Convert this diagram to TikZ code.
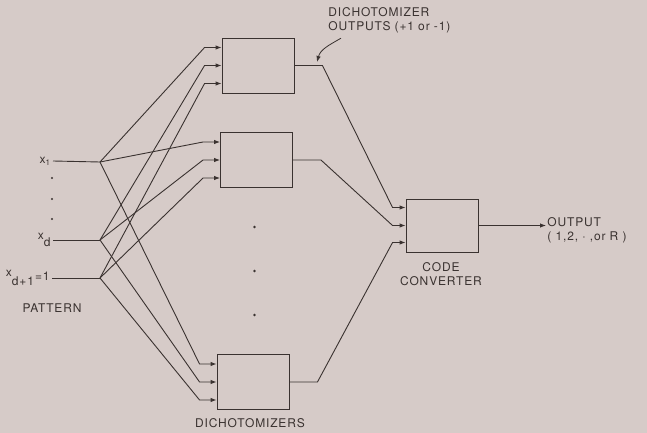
\documentclass[tikz,border=0pt]{standalone}
\usepackage{fontspec}
\setsansfont{TeX Gyre Heros}[LetterSpace=7]
\usetikzlibrary{arrows.meta,positioning}
\definecolor{paper}{RGB}{214,203,200}
\definecolor{ink}{RGB}{58,50,48}

\begin{document}
\begin{tikzpicture}[
    x=1pt, y=-1pt,
    font=\sffamily\fontsize{12}{14}\selectfont, line width=0.9pt,
    draw=ink, text=ink,
    dich/.style={draw=ink,minimum width=72pt,minimum height=55pt,inner sep=0pt},
    arrow/.style={-{Latex[length=6pt,width=4.5pt]}},
    tag/.style={align=center,inner sep=1pt},
    dot/.style={fill=ink}
]
\path[use as bounding box,fill=paper] (0,0) rectangle (647,433);

% pattern inputs
\coordinate (b1) at (100,162);
\coordinate (b2) at (100,240);
\coordinate (b3) at (100,278);
\node[anchor=east,inner sep=2pt] (x1) at (53,161) {x\textsubscript{1}};
\node[anchor=east,inner sep=2pt] (xd) at (53,240) {\raisebox{3pt}{x}\raisebox{-4pt}{d}};
\node[anchor=east,inner sep=2pt] (xe) at (52,278) {\raisebox{4pt}{x}\raisebox{-5pt}{d+1}\kern1pt=1};
\draw (x1.east) -- (b1);
\draw (xd.east) -- (b2);
\draw (xe.east) -- (b3);
\foreach \y in {178,199,219} \fill[dot] (52,\y) circle (1.2pt);
\node[tag] (pattern) at (52,308) {PATTERN};

% dichotomizers and code converter
\node[dich] (d1) at (258,65.5) {};
\node[dich] (d2) at (256.5,160) {};
\node[dich] (d3) at (253,382) {};
\node[dich,minimum height=53pt] (cc) at (442,225.5) {};
\foreach \y in {227,271,315} \fill[dot] (254.5,\y) circle (1.3pt);

\foreach \i in {1,2,3} {
  \foreach \j/\o in {1/18,2/0,3/-18}
    \draw[arrow] (b\j) -- ([shift={(-17pt,\o pt)}]d\i.west) -- ([yshift=\o pt]d\i.west);
}
\foreach \i/\o in {1/18,2/0,3/-17}
  \draw[arrow] (d\i.east) -- ++(28,0) -- ([shift={(-13pt,\o pt)}]cc.west) -- ([yshift=\o pt]cc.west);

% output
\node[tag,anchor=west,align=left] (out) at (546,230) {OUTPUT\\( 1,2, $\cdot$ ,or R )};
\draw[arrow] (cc.east) -- (cc.east -| out.west);

% labels
\node[tag] (ccname) at (441,274) {CODE\\CONVERTER};
\node[tag] (dname) at (250,423) {DICHOTOMIZERS};
\node[tag,anchor=west,align=left] (dout) at (327,20) {DICHOTOMIZER\\OUTPUTS (+1 or -1)};
\coordinate (tip) at (317,62);
\draw[arrow,line width=0.8pt] ([shift={(14pt,-4pt)}]dout.south west) to[out=210,in=75] (tip);
\end{tikzpicture}
\end{document}
